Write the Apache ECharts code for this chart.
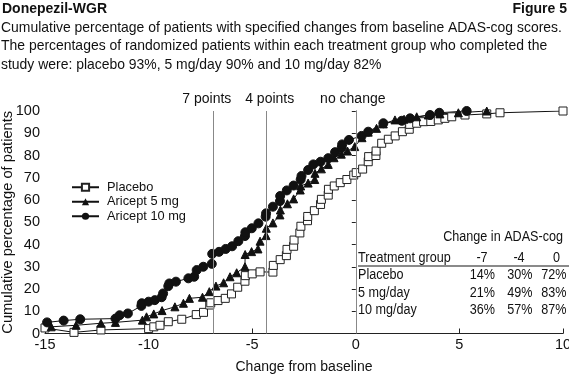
<!DOCTYPE html>
<html>
<head>
<meta charset="utf-8">
<script src="https://cdn.jsdelivr.net/npm/echarts@6/dist/echarts.min.js"></script>
<style>
html,body{margin:0;padding:0;background:#fff;}
#chart{width:569px;height:377px;}
</style>
</head>
<body>
<div id="chart"></div>
<script>
const FONT = "'Liberation Sans',Arial,sans-serif";

const placebo = [[-15,2.5],[-13.6,0.5],[-12.3,1.6],[-10,2.2],[-9.75,3],[-9.45,3.7],[-9.05,5.3],[-8.4,6.4],[-7.7,8.5],[-7.35,9.5],[-7.05,12.8],[-7.0,13.8],[-6.65,14.8],[-6.3,15.8],[-6.0,17.8],[-5.7,20.8],[-5.35,23.5],[-5.33,26],[-5.0,26.8],[-4.62,27.7],[-4.0,27.6],[-3.98,30.6],[-3.65,33.2],[-3.35,35],[-3.32,37.8],[-3.0,39.2],[-2.98,42],[-2.7,45.2],[-2.65,48.2],[-2.33,50.7],[-2.32,52.6],[-2.0,55.2],[-1.7,58],[-1.66,60.3],[-1.33,62.2],[-1.32,64.8],[-1.04,66.3],[-0.75,67.8],[-0.43,69.2],[-0.1,71.2],[0.02,72.3],[0.33,73.9],[0.6,77.2],[0.62,79.5],[0.97,80],[0.98,82],[1.25,85.5],[1.57,87.3],[1.9,88.8],[2.25,90.7],[2.58,91.8],[2.6,94],[2.94,94.5],[3.27,95.2],[3.62,95.3],[3.98,96],[4.3,96.7],[4.63,97.4],[5.27,98.2],[6.32,98.7],[6.96,99.2],[10,100]];

const aricept5 = [[-14.7,3],[-13.5,3.7],[-12.3,4.6],[-11.6,5],[-10.3,6],[-10.1,7.5],[-9.75,8.8],[-9.35,10.3],[-8.73,12],[-8.32,13.6],[-8.03,15.8],[-7.4,16.3],[-7.07,18.8],[-6.75,21.3],[-6.38,22.8],[-6.07,25.5],[-5.75,27.3],[-5.35,30],[-5.34,35.5],[-5.03,36.8],[-4.72,38],[-4.62,41.5],[-4.33,44],[-4.32,47.3],[-4.0,49.7],[-3.66,53.3],[-3.64,55.5],[-3.3,58.3],[-3.0,60.5],[-2.68,64.5],[-2.66,66.3],[-2.3,67.6],[-1.98,69.2],[-1.97,72],[-1.66,74],[-1.33,76],[-1.05,79],[-0.7,80.6],[-0.4,82],[-0.05,84],[0.3,88],[0.6,90.5],[1.0,92.2],[1.33,94.2],[1.89,96],[2.33,96.3],[2.94,97.4],[3.5,98.2],[4.06,98.7],[4.95,99.2],[6.32,100]];

const aricept10 = [[-14.9,5],[-14.1,5.8],[-13.3,6.4],[-11.6,6.7],[-11.4,8.2],[-11.0,9],[-10.35,12.4],[-10.33,13.6],[-10,14.3],[-9.7,15],[-9.37,16.3],[-9.3,18],[-9.05,21.3],[-9.0,22.5],[-8.68,23.3],[-8.08,24.8],[-7.8,25.5],[-7.68,28.5],[-7.36,30],[-6.95,31.3],[-6.93,35.8],[-6.6,36.7],[-6.28,38],[-5.97,39.2],[-5.67,41.5],[-5.35,43.8],[-5.33,45.5],[-5.02,47.3],[-4.7,49.5],[-4.35,52.5],[-4.33,54],[-4.0,57],[-3.66,59.5],[-3.65,61.8],[-3.33,64.3],[-3.0,66.5],[-2.66,69.2],[-2.62,70.8],[-2.3,73.5],[-2.05,76],[-1.7,77.2],[-1.33,78.8],[-1.0,81.5],[-0.68,83.5],[-0.66,85],[-0.33,87],[0.28,88.8],[0.6,90.7],[1.33,94.5],[2.22,95.6],[2.62,96.7],[3.58,98.2],[4.03,99.2],[5.35,100]];

const seriesNames = ['Placebo','Aricept 5 mg','Aricept 10 mg'];
const refLines = [-6.9, -4.3, 0];
const refLabels = ['7 points','4 points','no change'];

const tableTitle = 'Change in ADAS-cog';
const tableHeader = ['Treatment group','-7','-4','0'];
const tableRows = [
  ['Placebo','14%','30%','72%'],
  ['5 mg/day','21%','49%','83%'],
  ['10 mg/day','36%','57%','87%']
];

const titleLeft = 'Donepezil-WGR';
const titleRight = 'Figure 5';
const subtitleLines = [
  'Cumulative percentage of patients with specified changes from baseline ADAS-cog scores.',
  'The percentages of randomized patients within each treatment group who completed the',
  'study were: placebo 93%, 5 mg/day 90% and 10 mg/day 82%'
];

const chart = echarts.init(document.getElementById('chart'), null, {renderer:'canvas'});

const TXT = '#111';
const graphics = [];
function txt(x, y, text, font, align, sx){
  graphics.push({type:'text', x:x, y:y, scaleX:sx||1, style:{text:text, font:font, fill:TXT, align:align||'left', verticalAlign:'middle'}});
}
txt(2, 9, titleLeft, 'bold 14px '+FONT);
txt(567, 9, titleRight, 'bold 14px '+FONT, 'right');
subtitleLines.forEach((t,i)=>{
  txt(1, 27.5+i*18.5, t, '14.6px '+FONT, 'left', 0.955);
});
// table
const TF = '14px '+FONT, TS = 0.9;
const colRight = [495, 532.5, 566.5];
const headCenter = [482, 519, 556.5];
txt(563, 237, tableTitle, TF, 'right', TS);
txt(358, 258, tableHeader[0], TF, 'left', TS);
[1,2,3].forEach((c)=>{ txt(headCenter[c-1], 258, tableHeader[c], TF, 'center', TS); });
graphics.push({type:'line', shape:{x1:358,y1:266,x2:569,y2:266}, style:{stroke:'#8a8a8a', lineWidth:2}});
tableRows.forEach((r,i)=>{
  const y = 275.5 + i*17.5;
  txt(358, y, r[0], TF, 'left', TS);
  [1,2,3].forEach((c)=>{ txt(colRight[c-1], y, r[c], TF, 'right', TS); });
});

const common = {type:'line', z:3, lineStyle:{color:'#111', width:1}};
const labelOffsets = [[-6,0],[3,0],[-3,0]];

chart.setOption({
  animation:false,
  backgroundColor:'#fff',
  textStyle:{fontFamily:FONT},
  grid:{left:45, right:6, top:111, bottom:43.5, containLabel:false, outerBoundsMode:'none'},
  legend:{
    orient:'vertical', left:66, top:175, itemWidth:27, itemHeight:9, itemGap:0,
    textStyle:{fontSize:12.8, lineHeight:14.5, color:'#111', fontFamily:FONT, padding:[0,0,0,3]},
    data:seriesNames
  },
  xAxis:{
    type:'value', min:-15, max:10, interval:5,
    name:'Change from baseline', nameLocation:'middle', nameGap:27, nameMoveOverlap:false,
    nameTextStyle:{fontSize:14, color:'#111', fontFamily:FONT},
    axisLine:{lineStyle:{color:'#222', width:1}},
    axisTick:{inside:true, length:5, lineStyle:{color:'#222'}},
    axisLabel:{fontSize:14.5, color:'#111', margin:4, fontFamily:FONT},
    splitLine:{show:false}
  },
  yAxis:{
    type:'value', min:0, max:100, interval:10,
    name:'Cumulative percentage of patients', nameLocation:'middle', nameGap:30, nameMoveOverlap:false,
    nameTextStyle:{fontSize:14.7, color:'#111', fontFamily:FONT},
    axisLine:{show:true, lineStyle:{color:'#222', width:1}},
    axisTick:{show:true, length:4, lineStyle:{color:'#222'}},
    axisLabel:{fontSize:14.5, color:'#111', margin:5, fontFamily:FONT},
    splitLine:{show:false}
  },
  series:[
    Object.assign({}, common, {
      name:seriesNames[0], data:placebo, symbol:'rect', symbolSize:8,
      itemStyle:{color:'#fff', borderColor:'#222', borderWidth:1},
      markLine:{
        silent:true, symbol:['none','none'],
        lineStyle:{color:'#888', width:1, type:'solid'},
        label:{show:true, position:'end', fontSize:14, color:'#111', fontFamily:FONT, distance:5},
        data:refLines.map((v,i)=>({xAxis:v, label:{formatter:refLabels[i], offset:labelOffsets[i]}}))
      }
    }),
    Object.assign({}, common, {
      name:seriesNames[1], data:aricept5, symbol:'triangle', symbolSize:8,
      itemStyle:{color:'#111', borderColor:'#111'}
    }),
    Object.assign({}, common, {
      name:seriesNames[2], data:aricept10, symbol:'circle', symbolSize:9,
      itemStyle:{color:'#111', borderColor:'#111'}
    })
  ],
  graphic:graphics
});
</script>
</body>
</html>
